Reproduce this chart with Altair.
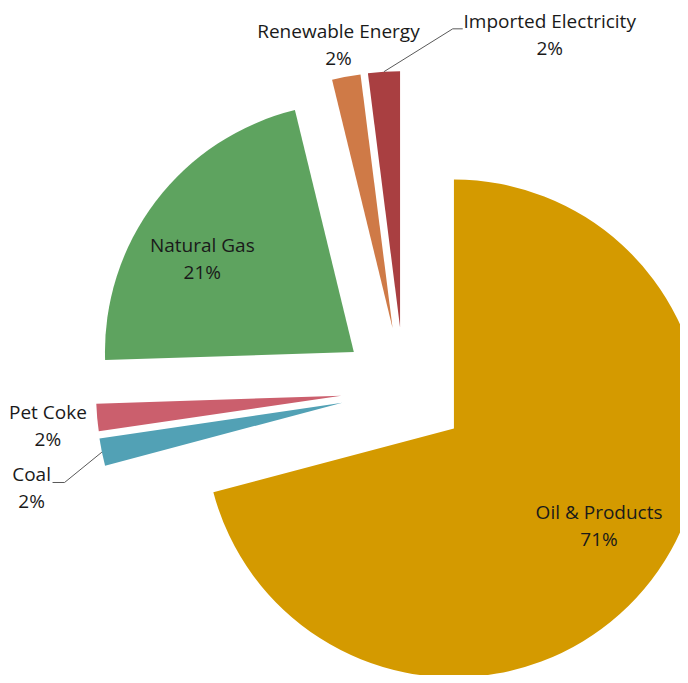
import math
import altair as alt
import pandas as pd

# ---- data ----
categories = ["Oil & Products", "Coal", "Pet Coke", "Natural Gas",
              "Renewable Energy", "Imported Electricity"]
shares = [70.8, 1.8, 1.8, 21.7, 1.8, 2.0]
label_pcts = ["71%", "2%", "2%", "21%", "2%", "2%"]

# ---- styling / layout ----
colors = ["#D49A00", "#52A1B5", "#CB5F6D", "#5EA35F", "#CF7A47", "#A93F41"]
W, H = 672, 667
CX, CY = 396, 382          # pie centre before explosion (px)
RX, RY = 245, 256          # the reference pie is slightly taller than wide
R = 250                    # nominal radius for label placement (px)
EXPLODE = 63               # explosion distance (px)
FS, LH = 19, 27            # label font size and line height
# label position relative to each slice tip: (radius factor, angle offset in degrees)
label_polar = [(0.70, -3.6), (1.29, -3.9), (1.18, -0.9),
               (0.71, -5.8), (1.15, -0.4), (1.31, 30.8)]
# leader lines: slices that get one, and (elbow offset, end offset) from the label centre
leaders = {"Coal": ((33, -6.5), (21, -6.5)),
           "Imported Electricity": ((-97, -7), (-87, -7))}


def unit(deg):
    a = math.radians(deg)
    return math.sin(a), -math.cos(a)


total = sum(shares)
rows, lab_rows, lead_rows = [], [], []
cum = 0.0
for i, (name, v) in enumerate(zip(categories, shares)):
    a0 = cum / total * 360
    cum += v
    a1 = cum / total * 360
    mid = (a0 + a1) / 2
    ux, uy = unit(mid)
    r = 1 / math.sqrt((ux / RX) ** 2 + (uy / RY) ** 2)
    tx, ty = CX + EXPLODE * ux, CY + EXPLODE * uy
    rows.append(dict(name=name, t0=math.radians(a0), t1=math.radians(a1),
                     px=tx, py=ty, r=r))
    rf, da = label_polar[i]
    lx_, ly_ = unit(mid + da)
    lx, ly = tx + rf * R * lx_, ty + rf * R * ly_
    lab_rows.append(dict(name=name, px=lx, py=ly, label=name + "\n" + label_pcts[i]))
    if name in leaders:
        (ex, ey), (fx, fy) = leaders[name]
        pts = [(tx + r * ux, ty + r * uy), (lx + ex, ly + ey), (lx + fx, ly + fy)]
        for k, (x, y) in enumerate(pts):
            lead_rows.append(dict(name=name, ord=k, px=x, py=y))

slices = pd.DataFrame(rows)
labels = pd.DataFrame(lab_rows)
leads = pd.DataFrame(lead_rows)

X = alt.X("px:Q", scale=None, axis=None)
Y = alt.Y("py:Q", scale=None, axis=None)

arcs = alt.Chart(slices).mark_arc().encode(
    x=X, y=Y,
    theta=alt.Theta("t0:Q", scale=None),
    theta2="t1:Q",
    radius=alt.Radius("r:Q", scale=None),
    color=alt.Color("name:N", scale=alt.Scale(domain=categories, range=colors), legend=None),
)

lines = alt.Chart(leads).mark_line(color="#595959", strokeWidth=1).encode(
    x=X, y=Y, detail="name:N", order="ord:Q"
)

texts = alt.Chart(labels).mark_text(
    lineBreak="\n", font="Open Sans", fontSize=FS, lineHeight=LH, dy=-LH / 2,
    align="center", baseline="middle", color="#1a1a1a"
).encode(x=X, y=Y, text="label:N")

chart = alt.layer(arcs, lines, texts).properties(
    width=W, height=H, padding=0,
    autosize=alt.AutoSizeParams(type="none"),
    background="white",
).configure_view(stroke=None)

chart.save("out.html", embed_options={"renderer": "svg", "actions": False})
